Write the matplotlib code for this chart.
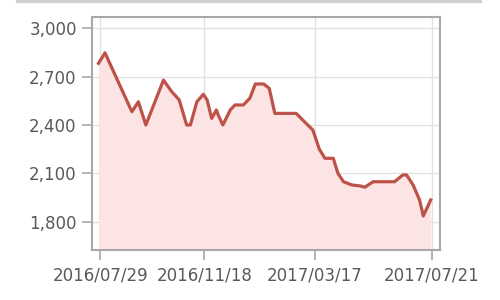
import numpy as np
import matplotlib
matplotlib.use("Agg")
import matplotlib.pyplot as plt
import matplotlib.dates as mdates
from matplotlib.lines import Line2D

# ---------------- data ----------------
dates = ["2016-07-27", "2016-08-03", "2016-09-01", "2016-09-08", "2016-09-16",
         "2016-10-05", "2016-10-14", "2016-10-22", "2016-10-30", "2016-11-03",
         "2016-11-10", "2016-11-17", "2016-11-21", "2016-11-26", "2016-12-01",
         "2016-12-03", "2016-12-08", "2016-12-16", "2016-12-21", "2016-12-30",
         "2017-01-06", "2017-01-12", "2017-01-21", "2017-01-27", "2017-02-02",
         "2017-02-25", "2017-03-06", "2017-03-15", "2017-03-22", "2017-03-28",
         "2017-04-06", "2017-04-11", "2017-04-17", "2017-04-26", "2017-05-05",
         "2017-05-10", "2017-05-19", "2017-06-11", "2017-06-20", "2017-06-24",
         "2017-07-01", "2017-07-08", "2017-07-12", "2017-07-15", "2017-07-20"]
values = [2782, 2847, 2482, 2544, 2400,
          2678, 2606, 2555, 2400, 2400,
          2544, 2590, 2555, 2441, 2493,
          2462, 2400, 2493, 2524, 2524,
          2565, 2654, 2654, 2627, 2472,
          2472, 2420, 2369, 2250, 2194,
          2194, 2101, 2049, 2029, 2023,
          2015, 2049, 2049, 2091, 2091,
          2029, 1936, 1837, 1874, 1936]

y_ticks = [1800, 2100, 2400, 2700, 3000]
x_ticks = ["2016-07-29", "2016-11-18", "2017-03-17", "2017-07-21"]

x = np.array(dates, dtype="datetime64[D]")
y = np.array(values)

fig = plt.figure(figsize=(5, 3), dpi=100)
ax = fig.add_axes([0.184, 0.167, 0.696, 0.776])

ax.fill_between(x, y, 1500, color="#fde4e4", lw=0, zorder=1)
ax.plot(x, y, color="#bd5248", lw=2.3, zorder=3, solid_joinstyle="round")

ax.set_xlim(np.datetime64("2016-07-20"), np.datetime64("2017-07-30"))
ax.set_ylim(1627, 3068)

ax.set_yticks(y_ticks)
ax.set_yticklabels(["{:,}".format(v) for v in y_ticks])
ax.set_xticks(np.array(x_ticks, dtype="datetime64[D]"))
ax.xaxis.set_major_formatter(mdates.DateFormatter("%Y/%m/%d"))

ax.grid(True, color="#e2e2e2", lw=1, zorder=0)
ax.set_axisbelow(True)
for s in ax.spines.values():
    s.set_color("#a8a8a8")
    s.set_linewidth(1.5)
ax.tick_params(axis="both", colors="#a8a8a8", length=7, width=1.2,
               labelcolor="#595959", labelsize=12)
ax.tick_params(axis="x", pad=5)
ax.tick_params(axis="y", pad=4)

# gray rule along the top edge
fig.add_artist(Line2D([0.036, 0.96], [0.996, 0.996], color="#cfcfcf", lw=3))

fig.savefig("out.png", dpi=100)
